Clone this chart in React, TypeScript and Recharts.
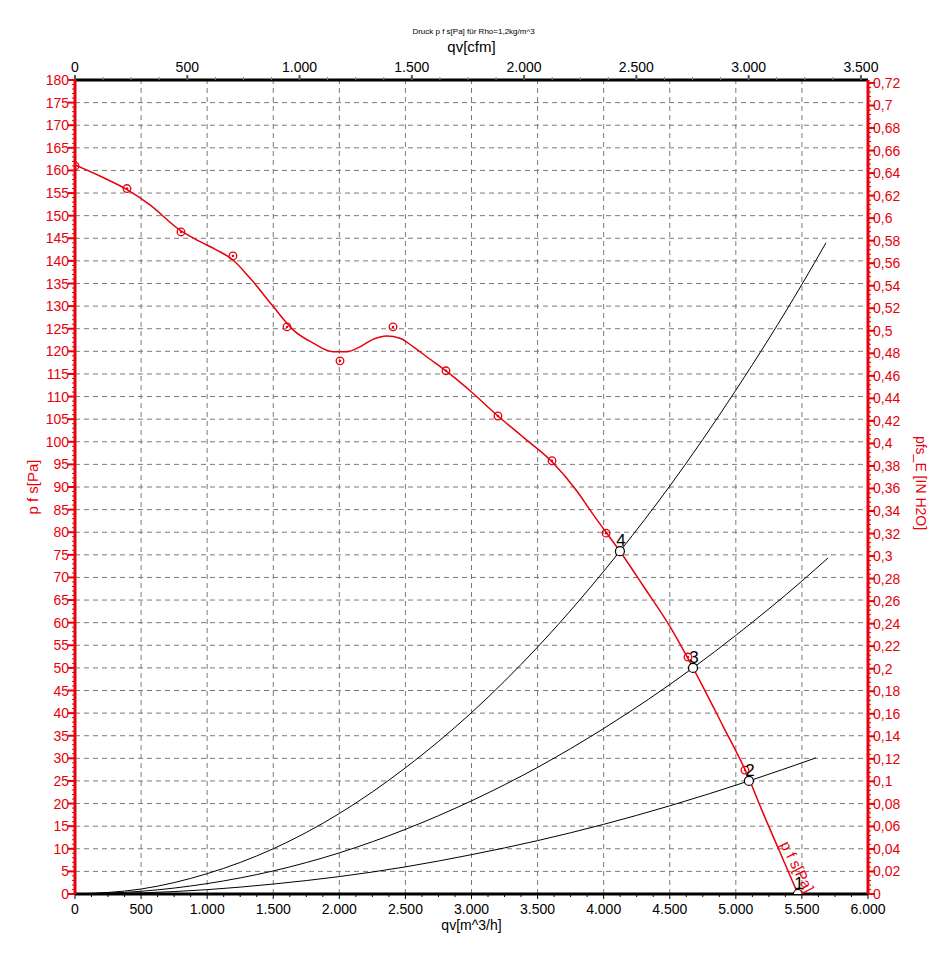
import React from 'react';
import { ComposedChart, Line, Scatter, XAxis, YAxis, ReferenceLine, Label } from 'recharts';

const FONT = '"Liberation Sans", Arial, Helvetica, sans-serif';
const RED = '#e8000b';
const GRID = '#7a7a7a';

// ---- axes / tick definitions ----
const flowMax = 6000; // m^3/h
const cfmPerM3h = 1 / 1.699011;
const cfmMax = flowMax * cfmPerM3h;
const paMax = 180;
const inH2OMax = paMax / 249.089;

const flowTicks = Array.from({ length: 49 }, (_, i) => i * 125); // major every 500
const cfmTicks = Array.from({ length: 29 }, (_, i) => i * 125); // major every 500
const paTicks = Array.from({ length: 181 }, (_, i) => i); // major every 5
const inTicks = Array.from({ length: 181 }, (_, i) => +(i * 0.004).toFixed(3)); // major every 0.02

const flowGrid = [500, 1000, 1500, 2000, 2500, 3000, 3500, 4000, 4500, 5000, 5500];
const paGrid = Array.from({ length: 35 }, (_, i) => (i + 1) * 5);

// ---- data ----
// fan curve p f s [Pa] over qv [m^3/h]
const fanCurve = [
  { q: 0, p: 161.2 }, { q: 200, p: 158.6 }, { q: 391, p: 155.8 }, { q: 567, p: 152.4 },
  { q: 794, p: 146.8 }, { q: 950, p: 144.2 }, { q: 1072, p: 142.4 }, { q: 1195, p: 140.2 },
  { q: 1324, p: 136.2 }, { q: 1500, p: 129.9 }, { q: 1652, p: 124.7 }, { q: 1803, p: 121.8 },
  { q: 1954, p: 119.9 }, { q: 2056, p: 119.9 }, { q: 2156, p: 121.0 }, { q: 2250, p: 122.6 },
  { q: 2360, p: 123.4 }, { q: 2459, p: 122.9 }, { q: 2560, p: 121.0 }, { q: 2661, p: 118.8 },
  { q: 2862, p: 114.4 }, { q: 3000, p: 111.0 }, { q: 3200, p: 105.7 }, { q: 3400, p: 100.8 },
  { q: 3609, p: 95.6 }, { q: 3800, p: 89.0 }, { q: 3897, p: 84.9 }, { q: 4018, p: 80.0 },
  { q: 4123, p: 75.8 }, { q: 4300, p: 68.1 }, { q: 4502, p: 59.1 }, { q: 4678, p: 49.9 },
  { q: 4900, p: 37.3 }, { q: 5082, p: 26.7 }, { q: 5196, p: 18.6 }, { q: 5330, p: 9.5 },
  { q: 5470, p: 0 },
];

// measured points
const measured = [
  { q: 0, p: 161.0 }, { q: 393, p: 156.0 }, { q: 802, p: 146.4 }, { q: 1195, p: 141.1 },
  { q: 1604, p: 125.4 }, { q: 2005, p: 117.9 }, { q: 2406, p: 125.4 }, { q: 2807, p: 115.7 },
  { q: 3200, p: 105.7 }, { q: 3609, p: 95.8 }, { q: 4018, p: 79.8 }, { q: 4638, p: 52.4 },
  { q: 5069, p: 27.4 },
];

// system curves
const system4 = [
  { q: 0, p: 0 }, { q: 500, p: 1.1 }, { q: 1000, p: 4.5 }, { q: 1500, p: 10.0 },
  { q: 2000, p: 17.8 }, { q: 2500, p: 27.9 }, { q: 3000, p: 40.1 }, { q: 3500, p: 54.6 },
  { q: 4123, p: 75.8 }, { q: 4500, p: 90.2 }, { q: 5000, p: 111.4 }, { q: 5500, p: 134.8 },
  { q: 5682, p: 144.0 },
];
const system3 = [
  { q: 0, p: 0 }, { q: 500, p: 0.6 }, { q: 1000, p: 2.3 }, { q: 1500, p: 5.1 },
  { q: 2000, p: 9.1 }, { q: 2500, p: 14.3 }, { q: 3000, p: 20.6 }, { q: 3500, p: 28.0 },
  { q: 4000, p: 36.6 }, { q: 4676, p: 50.0 }, { q: 5000, p: 57.2 }, { q: 5500, p: 69.2 },
  { q: 5697, p: 74.3 },
];
const system2 = [
  { q: 0, p: 0 }, { q: 500, p: 0.24 }, { q: 1000, p: 0.96 }, { q: 1500, p: 2.2 },
  { q: 2000, p: 3.85 }, { q: 2500, p: 6.0 }, { q: 3000, p: 8.7 }, { q: 3500, p: 11.8 },
  { q: 4000, p: 15.4 }, { q: 4500, p: 19.5 }, { q: 5099, p: 25.0 }, { q: 5606, p: 30.1 },
];

// operating points
const operatingPoints = [
  { q: 4123, p: 75.8, label: '4' },
  { q: 4676, p: 50.0, label: '3' },
  { q: 5099, p: 25.0, label: '2' },
  { q: 5470, p: 0, label: '1' },
];

const curveLabel = [{ q: 5463, p: 6, label: 'p f s[Pa]' }];

// anchor so the top cfm axis has a series bound to it (draws nothing)
const cfmAnchor = [{ q: 0, p: 0 }];

const titleText = 'Druck p f s[Pa] für Rho=1,2kg/m^3';

// ---- helpers ----
const fmtThousands = (v: number) => String(v).replace(/\B(?=(\d{3})+(?!\d))/g, '.');
const fmtComma = (v: number) => String(Number(v.toFixed(2))).replace('.', ',');
const isMult = (v: number, step: number) => Math.abs(v / step - Math.round(v / step)) < 1e-6;

const LeftTick = (props: any) => {
  const { x, y, payload } = props;
  const v = payload.value;
  const major = isMult(v, 5);
  return (
    <g>
      <line x1={x - (major ? 7 : 3)} x2={x} y1={y} y2={y} stroke={RED} strokeWidth={major ? 2 : 1} />
      {major && (
        <text x={x - 6} y={y} dy={5} textAnchor="end" fill={RED} fontSize={14} fontFamily={FONT}>
          {v}
        </text>
      )}
    </g>
  );
};

const RightTick = (props: any) => {
  const { x, y, payload } = props;
  const v = payload.value;
  const major = isMult(v, 0.02);
  return (
    <g>
      <line x1={x} x2={x + (major ? 7 : 3)} y1={y} y2={y} stroke={RED} strokeWidth={major ? 2 : 1} />
      {major && (
        <text x={x + 5} y={y} dy={5} textAnchor="start" fill={RED} fontSize={14} fontFamily={FONT}>
          {fmtComma(v)}
        </text>
      )}
    </g>
  );
};

const BottomTick = (props: any) => {
  const { x, y, payload } = props;
  const v = payload.value;
  const major = isMult(v, 500);
  return (
    <g>
      <line x1={x} x2={x} y1={y} y2={y + (major ? 5 : 3)} stroke="#000" strokeWidth={1} />
      {major && (
        <text x={x} y={y + 20} textAnchor="middle" fill="#000" fontSize={14} fontFamily={FONT}>
          {fmtThousands(v)}
        </text>
      )}
    </g>
  );
};

const TopTick = (props: any) => {
  const { x, y, payload } = props;
  const v = payload.value;
  const major = isMult(v, 500);
  return (
    <g>
      <line x1={x} x2={x} y1={y} y2={y - (major ? 5 : 3)} stroke={major ? '#555' : '#888'} strokeWidth={major ? 2 : 1} />
      {major && (
        <text x={x} y={y - 8} textAnchor="middle" fill="#000" fontSize={14} fontFamily={FONT}>
          {fmtThousands(v)}
        </text>
      )}
    </g>
  );
};

const MeasuredDot = (props: any) => {
  const { cx, cy } = props;
  return (
    <g>
      <circle cx={cx} cy={cy} r={3.8} fill="none" stroke={RED} strokeWidth={1.3} />
      <circle cx={cx} cy={cy} r={1.2} fill={RED} />
    </g>
  );
};

const OpDot = (props: any) => {
  const { cx, cy, payload } = props;
  return (
    <g>
      <circle cx={cx} cy={cy} r={4.5} fill="#fff" stroke="#000" strokeWidth={1.2} />
      <text x={cx + 1} y={cy - 5} textAnchor="middle" fill="#000" fontSize={17} fontFamily={FONT}>
        {payload.label}
      </text>
    </g>
  );
};

const CurveText = (props: any) => {
  const { cx, cy, payload } = props;
  return (
    <text
      x={cx}
      y={cy}
      dy={5}
      textAnchor="middle"
      fill={RED}
      fontSize={15}
      fontFamily={FONT}
      transform={`rotate(63 ${cx} ${cy})`}
    >
      {payload.label}
    </text>
  );
};

const Nothing = () => <g />;

export default function App() {
  return (
    <div style={{ position: 'absolute', left: 0, top: 0, width: 942, height: 959, background: '#fff' }}>
      <ComposedChart width={942} height={959} margin={{ top: 20, right: 20, bottom: 20, left: 20 }}>
        <XAxis
          xAxisId="m3"
          dataKey="q"
          type="number"
          orientation="bottom"
          domain={[0, flowMax]}
          ticks={flowTicks}
          interval={0}
          height={45}
          tickSize={0}
          tickMargin={0}
          tickLine={false}
          tick={(p: any) => <BottomTick {...p} />}
          axisLine={{ stroke: '#000', strokeWidth: 3 }}
          allowDataOverflow
        >
          <Label
            content={(p: any) => {
              const vb = p.viewBox;
              return (
                <text x={vb.x + vb.width / 2} y={vb.y + 36} textAnchor="middle" fontSize={14} fontFamily={FONT} fill="#000">
                  qv[m^3/h]
                </text>
              );
            }}
          />
        </XAxis>
        <XAxis
          xAxisId="cfm"
          dataKey="q"
          type="number"
          orientation="top"
          domain={[0, cfmMax]}
          ticks={cfmTicks}
          interval={0}
          height={60}
          tickSize={0}
          tickMargin={0}
          tickLine={false}
          tick={(p: any) => <TopTick {...p} />}
          axisLine={{ stroke: '#000', strokeWidth: 3 }}
          allowDataOverflow
        >
          <Label
            content={(p: any) => {
              const vb = p.viewBox;
              const cx = vb.x + vb.width / 2;
              return (
                <g>
                  <text x={cx + 2} y={vb.y + 14} textAnchor="middle" fontSize={8} fontFamily={FONT} fill="#000">
                    {titleText}
                  </text>
                  <text x={cx} y={vb.y + 32} textAnchor="middle" fontSize={15} fontFamily={FONT} fill="#000">
                    qv[cfm]
                  </text>
                </g>
              );
            }}
          />
        </XAxis>
        <YAxis
          yAxisId="pa"
          type="number"
          orientation="left"
          domain={[0, paMax]}
          ticks={paTicks}
          interval={0}
          width={55}
          tickSize={0}
          tickMargin={0}
          tickLine={false}
          tick={(p: any) => <LeftTick {...p} />}
          axisLine={{ stroke: RED, strokeWidth: 3 }}
          allowDataOverflow
        >
          <Label
            content={(p: any) => {
              const vb = p.viewBox;
              const cy = vb.y + vb.height / 2;
              const x = 38;
              return (
                <text x={x} y={cy} textAnchor="middle" fontSize={15} fontFamily={FONT} fill={RED} transform={`rotate(-90 ${x} ${cy})`}>
                  p f s[Pa]
                </text>
              );
            }}
          />
        </YAxis>
        <YAxis
          yAxisId="in"
          type="number"
          orientation="right"
          domain={[0, inH2OMax]}
          ticks={inTicks}
          interval={0}
          width={54}
          tickSize={0}
          tickMargin={0}
          tickLine={false}
          tick={(p: any) => <RightTick {...p} />}
          axisLine={{ stroke: RED, strokeWidth: 3 }}
          allowDataOverflow
        >
          <Label
            content={(p: any) => {
              const vb = p.viewBox;
              const cy = vb.y + vb.height / 2 - 4;
              const x = vb.x + 48;
              return (
                <text x={x} y={cy} textAnchor="middle" fontSize={14} fontFamily={FONT} fill={RED} transform={`rotate(90 ${x} ${cy})`}>
                  pfs_E [IN H2O]
                </text>
              );
            }}
          />
        </YAxis>

        {flowGrid.map((v) => (
          <ReferenceLine key={'gx' + v} x={v} xAxisId="m3" yAxisId="pa" stroke={GRID} strokeDasharray="5 4" strokeWidth={1} />
        ))}
        {paGrid.map((v) => (
          <ReferenceLine key={'gy' + v} y={v} xAxisId="m3" yAxisId="pa" stroke={GRID} strokeDasharray="5 4" strokeWidth={1} />
        ))}

        <Scatter data={cfmAnchor} dataKey="p" xAxisId="cfm" yAxisId="pa" shape={() => <Nothing />} isAnimationActive={false} />

        <Line data={system4} dataKey="p" xAxisId="m3" yAxisId="pa" type="monotone" stroke="#000" strokeWidth={1} dot={false} activeDot={false} isAnimationActive={false} />
        <Line data={system3} dataKey="p" xAxisId="m3" yAxisId="pa" type="monotone" stroke="#000" strokeWidth={1} dot={false} activeDot={false} isAnimationActive={false} />
        <Line data={system2} dataKey="p" xAxisId="m3" yAxisId="pa" type="monotone" stroke="#000" strokeWidth={1} dot={false} activeDot={false} isAnimationActive={false} />
        <Line data={fanCurve} dataKey="p" xAxisId="m3" yAxisId="pa" type="monotone" stroke={RED} strokeWidth={1.5} dot={false} activeDot={false} isAnimationActive={false} />

        <Scatter data={measured} dataKey="p" xAxisId="m3" yAxisId="pa" shape={(p: any) => <MeasuredDot {...p} />} isAnimationActive={false} />
        <Scatter data={operatingPoints} dataKey="p" xAxisId="m3" yAxisId="pa" shape={(p: any) => <OpDot {...p} />} isAnimationActive={false} />
        <Scatter data={curveLabel} dataKey="p" xAxisId="m3" yAxisId="pa" shape={(p: any) => <CurveText {...p} />} isAnimationActive={false} />
      </ComposedChart>
    </div>
  );
}
